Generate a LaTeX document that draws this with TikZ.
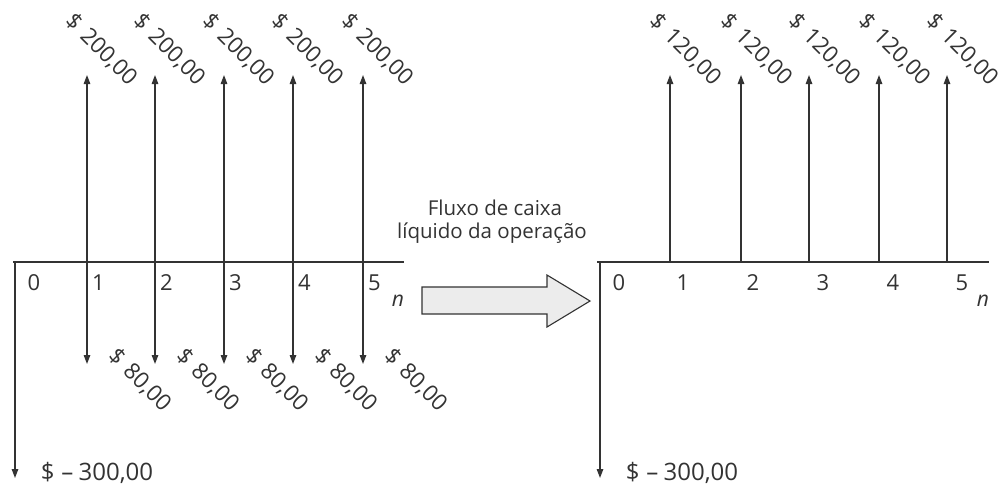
\documentclass[tikz,border=0pt]{standalone}
\usepackage{fontspec}
\setmainfont{Open Sans}
\usetikzlibrary{arrows.meta}
\definecolor{ink}{HTML}{333333}
\definecolor{boxfill}{HTML}{ECECEC}
\begin{document}
\begin{tikzpicture}[x=1pt,y=-1pt,
  line/.style={draw=ink,line width=1.3pt},
  flow/.style={line,-{Triangle[length=9pt,width=6.5pt]}},
  num/.style={text=ink,font=\fontsize{22}{24}\selectfont,inner sep=0pt},
  val/.style={text=ink,font=\fontsize{22.5}{24}\selectfont,inner sep=0pt,rotate=-45},
  tot/.style={text=ink,font=\fontsize{24}{26}\selectfont,inner sep=0pt},
  captext/.style={text=ink,font=\fontsize{20.5}{23}\selectfont,inner sep=0pt}]
\useasboundingbox (0,0) rectangle (1003,491);
% ---------- left diagram ----------
\coordinate (LA) at (13,262);
\coordinate (LB) at (404,262);
\coordinate (LO) at (15,262);
\coordinate (LE) at (15,478);
\draw[line] (LA) -- (LB);
\draw[flow] (LO) -- (LE);
\node[num] (l0) at (34,283) {0};
\foreach \i/\x in {1/87,2/155,3/224,4/293,5/363}{
  \coordinate (lt\i) at (\x,262);
  \coordinate (lu\i) at (\x,75);
  \coordinate (ld\i) at (\x,364);
  \draw[flow] (lt\i) -- (lu\i);
  \draw[flow] (lt\i) -- (ld\i);
  \node[num,anchor=west] (ln\i) at (\x+5,283) {\i};
  \node[val] (lp\i) at (\x+15,50) {\$\hspace{0.35em}200,00};
  \node[val] (lm\i) at (\x+53,380) {\$\hspace{0.35em}80,00};
}
\node[num,font=\fontsize{21}{23}\selectfont\itshape] (ln) at (398,301) {n};
\node[tot] (ltot) at (97,473) {\$\hspace{0.28em}–\hspace{0.22em}300,00};
% ---------- block arrow ----------
\coordinate (b1) at (422,287);
\coordinate (b2) at (547,287);
\coordinate (b3) at (547,275);
\coordinate (b4) at (590,301);
\coordinate (b5) at (547,327);
\coordinate (b6) at (547,314);
\coordinate (b7) at (422,314);
\draw[draw=ink,line width=1.1pt,fill=boxfill,line join=miter]
  (b1) -- (b2) -- (b3) -- (b4) -- (b5) -- (b6) -- (b7) -- cycle;
\node[captext] (c1) at (495,208) {Fluxo de caixa};
\node[captext] (c2) at (492,233) {líquido da operação};
% ---------- right diagram ----------
\coordinate (RA) at (597,262);
\coordinate (RB) at (989,262);
\coordinate (RO) at (600,262);
\coordinate (RE) at (600,478);
\draw[line] (RA) -- (RB);
\draw[flow] (RO) -- (RE);
\node[num] (r0) at (619,283) {0};
\foreach \i/\x in {1/670,2/741,3/809,4/879,5/947}{
  \coordinate (rt\i) at (\x,262);
  \coordinate (ru\i) at (\x,75);
  \draw[flow] (rt\i) -- (ru\i);
  \node[val] (rp\i) at (\x+16,50) {\$\hspace{0.35em}120,00};
}
\node[num] (rn1) at (683,283) {1};
\node[num] (rn2) at (753,283) {2};
\node[num] (rn3) at (823,283) {3};
\node[num] (rn4) at (893,283) {4};
\node[num] (rn5) at (962,283) {5};
\node[num,font=\fontsize{21}{23}\selectfont\itshape] (rn) at (983,301) {n};
\node[tot] (rtot) at (682,473) {\$\hspace{0.28em}–\hspace{0.22em}300,00};
\end{tikzpicture}
\end{document}
